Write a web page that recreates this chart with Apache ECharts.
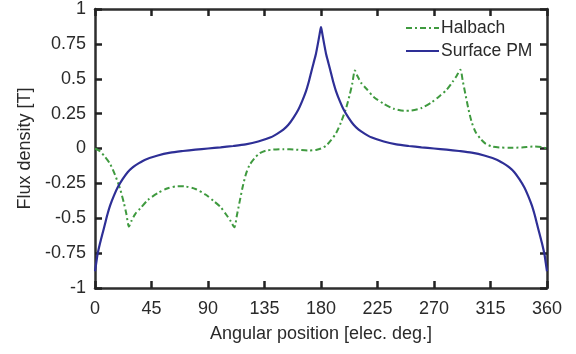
<!DOCTYPE html>
<html>
<head>
<meta charset="utf-8">
<script src="https://cdn.jsdelivr.net/npm/echarts@6/dist/echarts.min.js"></script>
<style>
html,body{margin:0;padding:0;background:#fff;}
#c{width:576px;height:354px;}
</style>
</head>
<body>
<div id="c"></div>
<script>
// ---- data ----
var xTicks = [0, 45, 90, 135, 180, 225, 270, 315, 360];
var yTicks = [-1, -0.75, -0.5, -0.25, 0, 0.25, 0.5, 0.75, 1];

var halbachAngle = [0, 4, 8, 12, 16, 20, 23, 25, 27, 29, 32, 36, 42, 50, 58, 66, 72, 80, 88, 95, 100, 105, 108, 111, 113, 115, 117.5, 120, 123, 127, 131, 136, 142, 150, 160, 170, 176, 180,
  184, 188, 192, 196, 200, 203, 205, 207, 209, 212, 216, 222, 230, 238, 246, 252, 260, 268, 275, 280, 285, 288, 291, 293, 295, 297.5, 300, 303, 307, 311, 316, 322, 330, 340, 350, 356, 360];
var halbachFlux = [0, -0.02, -0.06, -0.11, -0.19, -0.29, -0.39, -0.47, -0.56, -0.52, -0.47, -0.43, -0.37, -0.32, -0.285, -0.27, -0.272, -0.29, -0.33, -0.38, -0.42, -0.48, -0.52, -0.565, -0.48, -0.39, -0.28, -0.19, -0.12, -0.07, -0.035, -0.015, -0.008, -0.005, -0.008, -0.015, -0.01, 0,
  0.02, 0.06, 0.11, 0.19, 0.29, 0.39, 0.47, 0.56, 0.52, 0.47, 0.43, 0.37, 0.32, 0.285, 0.27, 0.272, 0.29, 0.33, 0.38, 0.42, 0.48, 0.52, 0.565, 0.48, 0.39, 0.28, 0.19, 0.12, 0.07, 0.035, 0.015, 0.008, 0.005, 0.008, 0.015, 0.01, 0];

var surfaceAngle = [0, 1, 2, 4, 6, 8, 10, 12, 15, 18, 22, 26, 30, 35, 40, 50, 60, 70, 80, 90, 100, 110, 120, 130, 140, 145, 150, 154, 158, 162, 165, 168, 170, 172, 174, 176, 177.5, 178.5, 179.3, 180,
  180.7, 181.5, 182.5, 184, 186, 188, 190, 192, 195, 198, 202, 206, 210, 215, 220, 230, 240, 250, 260, 270, 280, 290, 300, 310, 320, 325, 330, 334, 338, 342, 345, 348, 350, 352, 354, 356, 358, 359, 360];
var surfaceFlux = [-0.88, -0.82, -0.76, -0.68, -0.61, -0.54, -0.47, -0.41, -0.34, -0.28, -0.22, -0.17, -0.135, -0.105, -0.08, -0.05, -0.03, -0.018, -0.008, 0, 0.008, 0.018, 0.03, 0.05, 0.08, 0.105, 0.135, 0.17, 0.22, 0.28, 0.34, 0.41, 0.47, 0.54, 0.61, 0.68, 0.75, 0.8, 0.84, 0.87,
  0.84, 0.8, 0.75, 0.68, 0.61, 0.54, 0.47, 0.41, 0.34, 0.28, 0.22, 0.17, 0.135, 0.105, 0.08, 0.05, 0.03, 0.018, 0.008, 0, -0.008, -0.018, -0.03, -0.05, -0.08, -0.105, -0.135, -0.17, -0.22, -0.28, -0.34, -0.41, -0.47, -0.54, -0.61, -0.68, -0.76, -0.82, -0.88];

var seriesNames = ['Halbach', 'Surface PM'];
var xTitle = 'Angular position [elec. deg.]';
var yTitle = 'Flux density [T]';

function pairs(a, b) { return a.map(function (v, i) { return [v, b[i]]; }); }

var FONT = 'Liberation Sans, Arial, Helvetica, sans-serif';
var TXT = '#2a2a2a';
var AX = '#2e2e2e';
var GREEN = '#3f9a3f';
var BLUE = '#2e2f96';

var chart = echarts.init(document.getElementById('c'));

function axLine() { return { show: true, onZero: false, lineStyle: { color: AX, width: 2.5 } }; }
function tickIn() { return { show: true, inside: true, length: 7, lineStyle: { color: '#222222', width: 2.5 } }; }

chart.setOption({
  animation: false,
  grid: { left: 95, right: 29, top: 6, bottom: 66 },
  legend: {
    orient: 'vertical',
    left: 405,
    top: 19,
    itemWidth: 33,
    itemHeight: 12,
    itemGap: 5,
    padding: 0,
    data: seriesNames,
    itemStyle: { opacity: 0 },
    textStyle: { fontFamily: FONT, fontSize: 17.5, color: TXT, padding: [0, 0, 0, -3] }
  },
  xAxis: [{
    type: 'value', min: 0, max: 360, interval: 45,
    position: 'bottom',
    name: xTitle, nameLocation: 'middle', nameGap: 37,
    nameTextStyle: { fontFamily: FONT, fontSize: 18, color: TXT },
    axisLine: axLine(), axisTick: tickIn(),
    axisLabel: { fontFamily: FONT, fontSize: 18, color: TXT, margin: 12 },
    splitLine: { show: false }
  }, {
    type: 'value', min: 0, max: 360, interval: 45,
    position: 'top',
    axisLine: axLine(), axisTick: tickIn(),
    axisLabel: { show: false }, splitLine: { show: false }
  }],
  yAxis: [{
    type: 'value', min: -1, max: 1, interval: 0.25,
    position: 'left',
    name: yTitle, nameLocation: 'middle', nameGap: 60, nameRotate: 90,
    nameTextStyle: { fontFamily: FONT, fontSize: 18, color: TXT },
    axisLine: axLine(), axisTick: tickIn(),
    axisLabel: { fontFamily: FONT, fontSize: 18, color: TXT, margin: 9 },
    splitLine: { show: false }
  }, {
    type: 'value', min: -1, max: 1, interval: 0.25,
    position: 'right',
    axisLine: axLine(), axisTick: tickIn(),
    axisLabel: { show: false }, splitLine: { show: false }
  }],
  series: [{
    name: seriesNames[0], type: 'line', xAxisIndex: 0, yAxisIndex: 0,
    data: pairs(halbachAngle, halbachFlux),
    showSymbol: false, symbol: 'none', smooth: 0.25,
    itemStyle: { color: GREEN },
    lineStyle: { color: GREEN, width: 2, type: [6, 3, 2, 3] },
    z: 3
  }, {
    name: seriesNames[1], type: 'line', xAxisIndex: 0, yAxisIndex: 0,
    data: pairs(surfaceAngle, surfaceFlux),
    showSymbol: false, symbol: 'none', smooth: 0.25,
    itemStyle: { color: BLUE },
    lineStyle: { color: BLUE, width: 2.2 },
    z: 4
  }]
});
</script>
</body>
</html>
